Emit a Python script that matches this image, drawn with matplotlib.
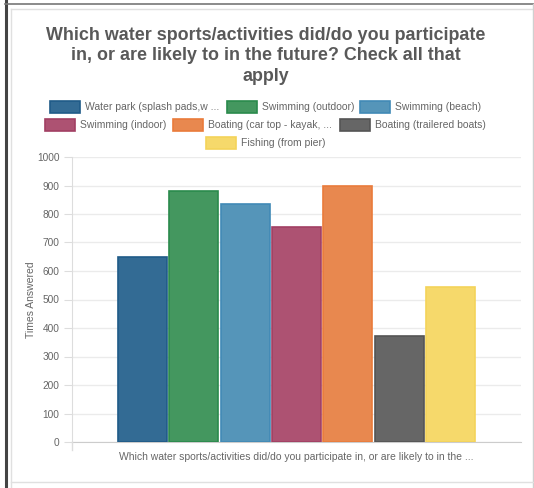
import matplotlib
matplotlib.use("Agg")
import matplotlib.pyplot as plt
from matplotlib.patches import Rectangle
from matplotlib.lines import Line2D

series = ["Water park (splash pads,w ...", "Swimming (outdoor)", "Swimming (beach)",
          "Swimming (indoor)", "Boating (car top - kayak, ...", "Boating (trailered boats)",
          "Fishing (from pier)"]
values = [650, 882, 834, 756, 898, 373, 545]
fill_colors = ["#336b94", "#44975f", "#5595b9", "#ad5272", "#e8884f", "#666666", "#f6d96b"]
edge_colors = ["#1f5b88", "#2a8a4c", "#418ab6", "#a23f63", "#ea7b3b", "#555555", "#f4d35a"]
category = "Which water sports/activities did/do you participate in, or are likely to in the ..."
yticks = [0, 100, 200, 300, 400, 500, 600, 700, 800, 900, 1000]
title = "Which water sports/activities did/do you participate\nin, or are likely to in the future? Check all that\napply"

W, H = 534, 488
plt.rcParams['font.family'] = ['Liberation Sans', 'DejaVu Sans']
fig = plt.figure(figsize=(W / 100, H / 100), dpi=100)

def fx(px):
    return px / W

def fy(py):
    return 1 - py / H

SMALL = 7.3

# frame
fig.add_artist(Line2D([fx(6), fx(6)], [0, 1], color="#444444", lw=2.2))
fig.add_artist(Line2D([fx(5), 1], [fy(3.5), fy(3.5)], color="#777777", lw=1.2))
fig.add_artist(Line2D([fx(11), fx(11)], [fy(9), 0], color="#e0e0e0", lw=1))
fig.add_artist(Line2D([fx(11), fx(533)], [fy(9), fy(9)], color="#e0e0e0", lw=1))
fig.add_artist(Line2D([fx(532.5), fx(532.5)], [fy(4), 0], color="#d0d0d0", lw=1))
fig.add_artist(Line2D([fx(11), fx(533)], [fy(482), fy(482)], color="#e0e0e0", lw=1))

# title
fig.text(fx(266), fy(56), title, ha="center", va="center", fontsize=12.9,
         fontweight="bold", color="#595959", linespacing=1.27)

# axes
left, right, top, bottom = 72, 521, 157, 442
ax = fig.add_axes([fx(left), fy(bottom), fx(right - left), (bottom - top) / H])
n = len(values)
cat_w = 0.8 / n
for i, v in enumerate(values):
    x = -0.4 + cat_w * (i + 0.5)
    ax.bar(x, v, width=cat_w * 0.95, color=fill_colors[i], edgecolor=edge_colors[i],
           linewidth=1.2, zorder=3)

ax.set_xlim(-0.5, 0.5)
ax.set_ylim(0, 1000)
ax.set_yticks(yticks)
ax.set_yticklabels([str(t) for t in yticks])
ax.set_xticks([0])
ax.set_xticklabels([category])
ax.tick_params(axis="y", length=6, color="#dddddd", labelsize=SMALL, labelcolor="#666666", pad=3)
ax.tick_params(axis="x", length=0, labelsize=SMALL + 0.2, labelcolor="#666666", pad=7)
ax.grid(axis="y", color="#ebebeb", lw=1, zorder=0)
for s in ["top", "right"]:
    ax.spines[s].set_visible(False)
ax.spines["left"].set_color("#dddddd")
ax.spines["bottom"].set_color("#cccccc")
ax.set_ylabel("Times Answered", fontsize=SMALL + 0.2, color="#666666", labelpad=1)

# small tick below axis at left edge
fig.add_artist(Line2D([fx(72), fx(72)], [fy(442), fy(450)], color="#dddddd", lw=1))

# legend (manual, centered rows like Chart.js)
legend_items = [
    (50, 107, 0), (227, 107, 1), (360, 107, 2),
    (45, 125, 3), (173, 125, 4), (340, 125, 5),
    (206, 143, 6),
]
for bx, by, i in legend_items:
    fig.add_artist(Rectangle((fx(bx), fy(by + 6)), fx(30), 12 / H, facecolor=fill_colors[i],
                             edgecolor=edge_colors[i], lw=1.2))
    fig.text(fx(bx + 35), fy(by), series[i], ha="left", va="center", fontsize=SMALL + 0.2,
             color="#666666")

fig.savefig("out.png", dpi=100)
